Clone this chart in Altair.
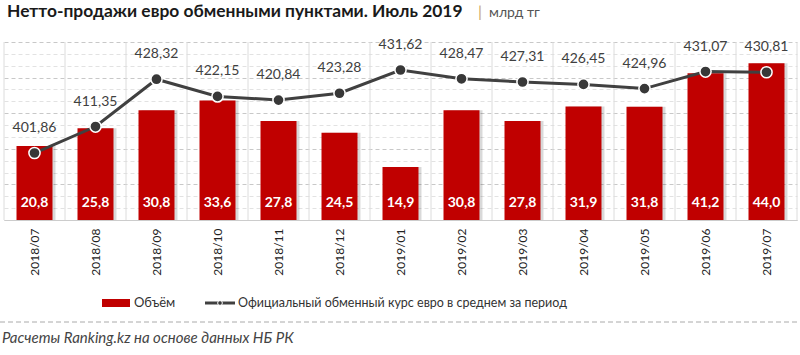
import altair as alt
import pandas as pd

months = ["2018/07", "2018/08", "2018/09", "2018/10", "2018/11", "2018/12", "2019/01",
          "2019/02", "2019/03", "2019/04", "2019/05", "2019/06", "2019/07"]
volume = [20.8, 25.8, 30.8, 33.6, 27.8, 24.5, 14.9, 30.8, 27.8, 31.9, 31.8, 41.2, 44.0]
rate = [401.86, 411.35, 428.32, 422.15, 420.84, 423.28, 431.62, 428.47, 427.31, 426.45,
        424.96, 431.07, 430.81]
vol_labels = [f"{v:.1f}".replace(".", ",") for v in volume]
rate_labels = [f"{v:.2f}".replace(".", ",") for v in rate]

title_main = "Нетто-продажи евро обменными пунктами. Июль 2019"
title_unit = "млрд тг"
legend_bar = "Объём"
legend_line = "Официальный обменный курс евро в среднем за период"
source = "Расчеты Ranking.kz на основе данных НБ РК"

df = pd.DataFrame({"month": months, "volume": volume, "rate": rate,
                   "vol_lbl": vol_labels, "rate_lbl": rate_labels})
one = pd.DataFrame({"k": [0]})

FONT = "Lato"
W, H = 793, 178
RED = "#c00000"
DARK = "#404040"

grid_vals = [round(i * 10 / 3, 4) for i in range(16)]

xenc = alt.X("month:N", sort=months,
             scale=alt.Scale(paddingInner=0, paddingOuter=0),
             axis=alt.Axis(title=None, labelAngle=270, labelAlign="right",
                           labelBaseline="middle", labelPadding=8, labelFont=FONT,
                           labelFontSize=12, labelColor="#222222", ticks=False,
                           domain=True, domainColor="#cccccc", grid=False))

ybar = alt.Y("volume:Q", scale=alt.Scale(domain=[0, 50], nice=False, zero=True),
             axis=alt.Axis(values=grid_vals, grid=True,
                           gridColor={"condition": {"test": "datum.value % 10 === 0",
                                                    "value": "#c8c8c8"},
                                      "value": "#e2e2e2"},
                           gridDash=[4, 3], labels=False, ticks=False, domain=False,
                           title=None))

base = alt.Chart(df)

vgrid = base.mark_rule(color="#dcdcdc", strokeWidth=1).encode(
    x=alt.X("month:N", sort=months, bandPosition=0), y=alt.value(0), y2=alt.value(H))
vgrid_end = alt.Chart(one).mark_rule(color="#dcdcdc", strokeWidth=1).encode(
    x=alt.value(W), y=alt.value(0), y2=alt.value(H))

shadow = base.mark_bar(color="#000000", opacity=0.15, xOffset=3,
                       width=alt.RelativeBandSize(0.59)).encode(x=xenc, y=ybar)
bars = base.mark_bar(color=RED, width=alt.RelativeBandSize(0.59)).encode(x=xenc, y=ybar)
bar_text = base.mark_text(color="white", fontWeight="bold", fontSize=14, font=FONT,
                          baseline="middle").encode(
    x=alt.X("month:N", sort=months), y=alt.value(H - 17), text="vol_lbl:N")

bar_layer = alt.layer(vgrid, vgrid_end, shadow, bars, bar_text)

yline = alt.Y("rate:Q", scale=alt.Scale(domain=[377.84, 441.66], nice=False, zero=False),
              axis=None)
line = base.mark_line(color=DARK, strokeWidth=3).encode(
    x=alt.X("month:N", sort=months), y=yline)
pts = base.mark_circle(size=125, fill="#383838", stroke="white", strokeWidth=1.5,
                       opacity=1).encode(x=alt.X("month:N", sort=months), y=yline)
line_text = base.mark_text(dy=-25, fontSize=14, font=FONT, color=DARK,
                           baseline="middle").encode(
    x=alt.X("month:N", sort=months), y=yline, text="rate_lbl:N")
line_layer = alt.layer(line, pts, line_text)


def txt(s, x, y, **kw):
    return alt.Chart(one).mark_text(font=FONT, align="left", **kw).encode(
        x=alt.value(x), y=alt.value(y), text=alt.value(s))


title1 = txt(title_main, 3, -25, baseline="alphabetic", fontSize=17.4, fontWeight="bold",
             color="#1a1a1a")
title2 = txt("|", 474, -25, baseline="alphabetic", fontSize=16, color="#c8a86a")
title3 = txt(title_unit, 485, -25, baseline="alphabetic", fontSize=14, color="#555555")

leg_rect = alt.Chart(one).mark_rect(color=RED).encode(
    x=alt.value(98), x2=alt.value(126), y=alt.value(257), y2=alt.value(265))
leg_t1 = txt(legend_bar, 130, 261, baseline="middle", fontSize=13, color="#333333")
leg_line = alt.Chart(one).mark_rule(color=DARK, strokeWidth=3).encode(
    x=alt.value(201), x2=alt.value(231), y=alt.value(261))
leg_dot = alt.Chart(one).mark_circle(size=22, fill="#383838", stroke="white",
                                     strokeWidth=1, opacity=1).encode(
    x=alt.value(216), y=alt.value(261))
leg_t2 = txt(legend_line, 234, 261, baseline="middle", fontSize=12.5, color="#333333")

foot_rule = alt.Chart(one).mark_rule(color="#aaaaaa", strokeDash=[5, 3], strokeWidth=1).encode(
    x=alt.value(-4), x2=alt.value(W + 3), y=alt.value(280))
foot_txt = txt(source, -2, 296, baseline="middle", fontSize=15, fontStyle="italic",
               color="#444444")

chart = alt.layer(
    bar_layer, line_layer, title1, title2, title3, leg_rect, leg_t1, leg_line, leg_dot,
    leg_t2, foot_rule, foot_txt
).resolve_scale(y="independent").properties(
    width=W, height=H,
    autosize=alt.AutoSizeParams(type="none"),
    padding={"left": 4, "top": 42, "right": 3, "bottom": 135},
).configure_view(stroke=None)

chart.save("out.html", embed_options={"renderer": "svg", "actions": False})
